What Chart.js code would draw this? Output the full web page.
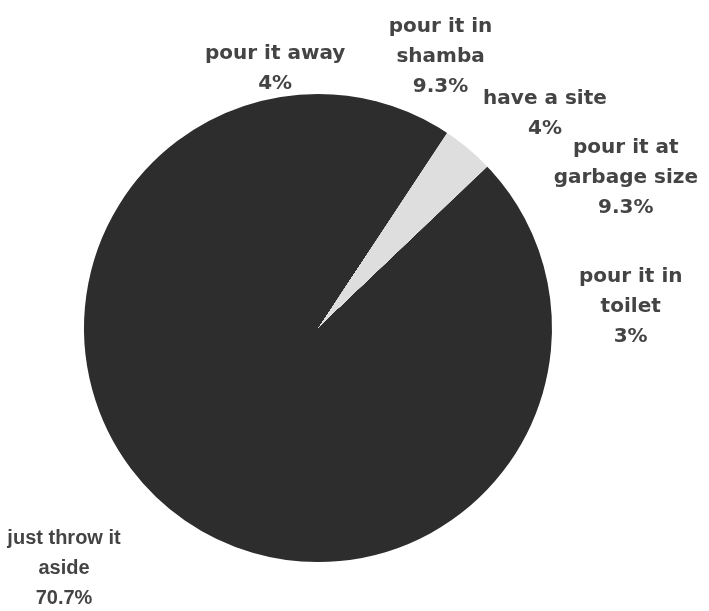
<!DOCTYPE html>
<html>
<head>
<meta charset="utf-8">
<script src="https://cdn.jsdelivr.net/npm/chart.js@4"></script>
<style>
  html, body { margin: 0; padding: 0; background: #ffffff; }
  #wrap { width: 709px; height: 611px; position: relative; }
</style>
</head>
<body>
<div id="wrap"><canvas id="pieChart"></canvas></div>
<script>
// data
const categories = ['pour it away', 'pour it in shamba', 'have a site', 'pour it at garbage size', 'pour it in toilet', 'just throw it aside'];
const shares = [4, 9.3, 4, 9.3, 3, 70.7];

// label text split into lines the way the picture wraps them
const labelLines = [
    ['pour it away'],
    ['pour it in', 'shamba'],
    ['have a site'],
    ['pour it at', 'garbage size'],
    ['pour it in', 'toilet'],
    ['just throw it', 'aside']
];
// where each label block sits, relative to pie centre, in units of radius (moved by hand in the original)
const labelSpots = [[-0.184, -1.154], [0.526, -1.269], [0.974, -0.962], [1.321, -0.752], [1.342, -0.197], [-1.09, 0.927]];

const darkFill = '#2d2d2d';
const lightFill = '#dedede';

// the scan shows a pale wedge on the last part of the shamba slice
const paleWedge = {
    id: 'paleWedge',
    beforeDatasetsDraw(chart) {
        const arc = chart.getDatasetMeta(0).data[1];
        if (!arc) return;
        const ctx = chart.ctx;
        const span = (arc.endAngle - arc.startAngle) / (Math.PI * 2);
        const g = ctx.createConicGradient(arc.startAngle, arc.x, arc.y);
        const cut = span * 0.57;
        g.addColorStop(0, darkFill);
        g.addColorStop(cut, darkFill);
        g.addColorStop(cut + 0.0005, lightFill);
        g.addColorStop(span - 0.004, lightFill);
        g.addColorStop(span - 0.0035, darkFill);
        g.addColorStop(1, darkFill);
        arc.options.backgroundColor = g;
        arc.options.borderColor = g;
    }
};

const sliceLabels = {
    id: 'sliceLabels',
    afterDraw(chart) {
        const arc0 = chart.getDatasetMeta(0).data[0];
        if (!arc0) return;
        const ctx = chart.ctx;
        const cx = arc0.x, cy = arc0.y, r = arc0.outerRadius;
        ctx.save();
        ctx.fillStyle = '#444444';
        ctx.textAlign = 'center';
        ctx.textBaseline = 'alphabetic';
        labelLines.forEach((lines, i) => {
            const last = i === labelLines.length - 1;
            ctx.font = last ? 'bold 20px "Liberation Sans", Arial, sans-serif'
                            : 'bold 20px "DejaVu Sans", sans-serif';
            const x = cx + labelSpots[i][0] * r;
            let y = cy + labelSpots[i][1] * r;
            const all = lines.concat([shares[i] + '%']);
            all.forEach(t => {
                ctx.fillText(t, x, y);
                y += 30;
            });
        });
        ctx.restore();
    }
};

const ctx1 = document.getElementById('pieChart').getContext('2d');
new Chart(ctx1, {
    type: 'pie',
    data: {
        labels: categories,
        datasets: [{
            data: shares,
            backgroundColor: darkFill,
            borderColor: darkFill,
            borderWidth: 2
        }]
    },
    options: {
        responsive: true,
        maintainAspectRatio: false,
        animation: false,
        layout: { padding: { left: 84, right: 157, top: 94, bottom: 49 } },
        plugins: {
            legend: { display: false },
            tooltip: { enabled: false }
        }
    },
    plugins: [paleWedge, sliceLabels]
});
</script>
</body>
</html>
